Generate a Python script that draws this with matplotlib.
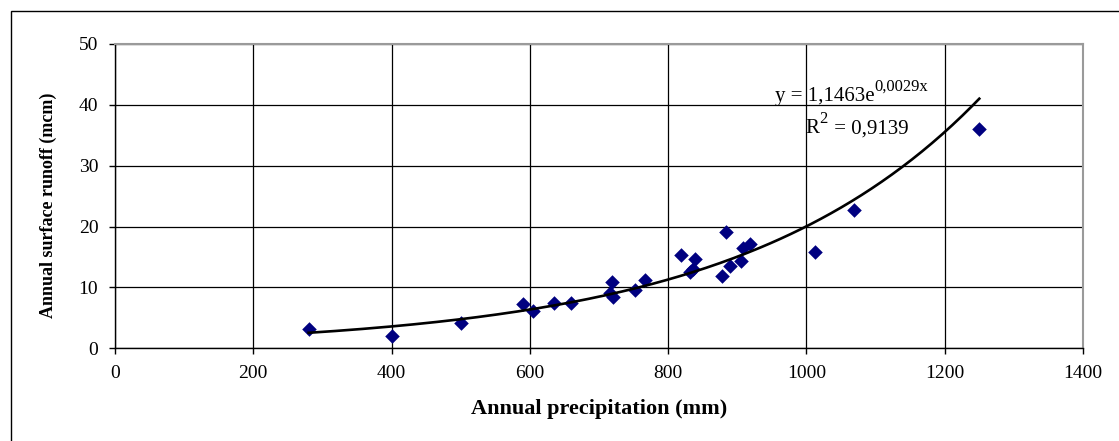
import numpy as np
import matplotlib.pyplot as plt
from matplotlib.patches import Rectangle

# annual precipitation (mm) vs annual surface runoff (mcm)
precip = [280, 400, 500, 590, 604, 635, 659, 716, 720, 719, 752, 767, 818,
          831, 836, 839, 878, 884, 889, 906, 908, 918, 1013, 1069, 1250]
runoff = [3.1, 2.1, 4.1, 7.2, 6.2, 7.5, 7.5, 9.1, 8.4, 10.9, 9.6, 11.3, 15.3,
          12.6, 13.0, 14.7, 11.9, 19.1, 13.6, 14.4, 16.4, 17.1, 15.8, 22.7, 36.0]
x_ticks = [0, 200, 400, 600, 800, 1000, 1200, 1400]
y_ticks = [0, 10, 20, 30, 40, 50]

plt.rcParams['font.family'] = ['Liberation Serif', 'DejaVu Serif']

fig = plt.figure(figsize=(11.19, 4.41), dpi=100)
ax = fig.add_axes([115 / 1119, 1 - 348.3 / 441, 968 / 1119, 304.3 / 441])

# outer chart border (only top and left edges fall inside the picture)
fig.patches.append(Rectangle((11 / 1119, -0.1), 1.2, (441 - 11) / 441 + 0.1,
                             transform=fig.transFigure, fill=False,
                             edgecolor='black', linewidth=1.0))

ax.scatter(precip, runoff, marker='D', s=55, color='#000080', zorder=3,
           linewidths=0)

# exponential trendline fitted like Excel does (log-linear least squares)
x = np.array(precip, dtype=float)
y = np.array(runoff, dtype=float)
b, ln_a = np.polyfit(x, np.log(y), 1)
a = np.exp(ln_a)
xs = np.linspace(x.min(), x.max(), 200)
ax.plot(xs, a * np.exp(b * xs), color='black', linewidth=1.9, zorder=4)

eq = ax.text(954, 40.6, 'y = 1,1463e', fontsize=15)
ax.annotate('0,0029x', xy=(1.0, 0.62), xycoords=eq, fontsize=12,
            va='bottom', ha='left')
r2 = ax.text(998, 35.3, 'R', fontsize=15)
ax.annotate('2', xy=(1.0, 0.62), xycoords=r2, fontsize=12,
            va='bottom', ha='left')
ax.annotate(' = 0,9139', xy=(1.0, 0.0), xycoords=r2, fontsize=15,
            va='bottom', ha='left', xytext=(7, 0), textcoords='offset points')

ax.set_xlim(0, 1400)
ax.set_ylim(0, 50)
ax.set_xticks(x_ticks)
ax.set_yticks(y_ticks)
ax.tick_params(labelsize=14, direction='out', length=4, width=1,
               top=False, right=False, pad=8)
ax.grid(True, color='black', linewidth=0.9)
ax.set_axisbelow(True)
for side in ['top', 'right']:
    ax.spines[side].set_color('#9a9a9a')
    ax.spines[side].set_linewidth(1.5)
for side in ['left', 'bottom']:
    ax.spines[side].set_color('black')
    ax.spines[side].set_linewidth(1.0)

ax.set_xlabel('Annual precipitation (mm)', fontsize=16, fontweight='bold',
              labelpad=12)
ax.set_ylabel('Annual surface runoff (mcm)', fontsize=13, fontweight='bold')
ax.yaxis.set_label_coords(-0.060, 0.471)

fig.savefig('out.png', dpi=100)
